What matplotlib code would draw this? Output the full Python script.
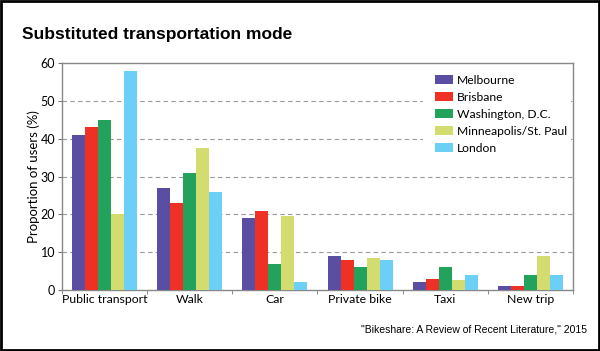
import matplotlib
matplotlib.use('Agg')
import matplotlib.pyplot as plt
import numpy as np

categories = ['Public transport', 'Walk', 'Car', 'Private bike', 'Taxi', 'New trip']
cities = ['Melbourne', 'Brisbane', 'Washington, D.C.', 'Minneapolis/St. Paul', 'London']
melbourne = [41, 27, 19, 9, 2, 1]
brisbane = [43, 23, 21, 8, 3, 1]
washington = [45, 31, 7, 6, 6, 4]
minneapolis = [20, 37.5, 19.5, 8.5, 2.6, 9]
london = [58, 26, 2, 8, 4, 4]
colors = ['#5a4ea2', '#ee3124', '#22a25a', '#d3dc6f', '#6ccff6']

series = [melbourne, brisbane, washington, minneapolis, london]
FONT = 'Lato'

fig = plt.figure(figsize=(6, 3.51), dpi=100)
ax = fig.add_axes([62 / 600, 61 / 351, 511 / 600, 227 / 351])

x = np.arange(len(categories))
w = 0.153
for i, (vals, name, c) in enumerate(zip(series, cities, colors)):
    ax.bar(x + (i - 2) * w, vals, width=w, color=c, label=name, zorder=3)

ax.set_xlim(-0.5, len(categories) - 0.5)
ax.set_ylim(0, 60)
ax.set_yticks(range(0, 61, 10))
ax.set_xticks(x)
ax.set_xticklabels(categories, fontsize=8.8, family=FONT)
ax.set_xticks(np.arange(-0.5, len(categories), 1), minor=True)
ax.tick_params(axis='x', which='major', length=0, pad=3)
ax.tick_params(axis='x', which='minor', length=3, color='#777777')
ax.tick_params(axis='y', length=3, color='#777777', labelsize=9, pad=2)
for lab in ax.get_yticklabels():
    lab.set_family(FONT)
ax.set_ylabel('Proportion of users (%)', fontsize=9.5, family=FONT, labelpad=0)

for y in range(10, 60, 10):
    ax.axhline(y, color='#999999', linestyle=(0, (4, 3)), linewidth=0.8, zorder=1)

# white patch behind the legend hides the gridlines there
ax.add_patch(plt.Rectangle((0.706, 0.62), 0.29, 0.375, transform=ax.transAxes,
                           facecolor='white', edgecolor='none', zorder=2))

for s in ax.spines.values():
    s.set_color('#888888')
    s.set_linewidth(1.0)

ax.legend(loc='upper left', bbox_to_anchor=(0.73, 0.948), frameon=False,
          prop={'family': FONT, 'size': 8.7}, handlelength=1.5,
          handleheight=0.75, labelspacing=0.5, handletextpad=0.3,
          borderpad=0, borderaxespad=0)

fig.text(22 / 600, 1 - 35 / 351, 'Substituted transportation mode', fontsize=12.5,
         fontweight='bold', family='Liberation Sans', va='center', ha='left')
fig.text(587 / 600, 1 - 330 / 351, '"Bikeshare: A Review of Recent Literature," 2015',
         fontsize=7.5, family='Liberation Sans', va='center', ha='right')

border = plt.Rectangle((0.001, 0.002), 0.997, 0.995, transform=fig.transFigure,
                       fill=False, edgecolor='black', linewidth=2)
fig.patches.append(border)

fig.savefig('out.png', dpi=100)
